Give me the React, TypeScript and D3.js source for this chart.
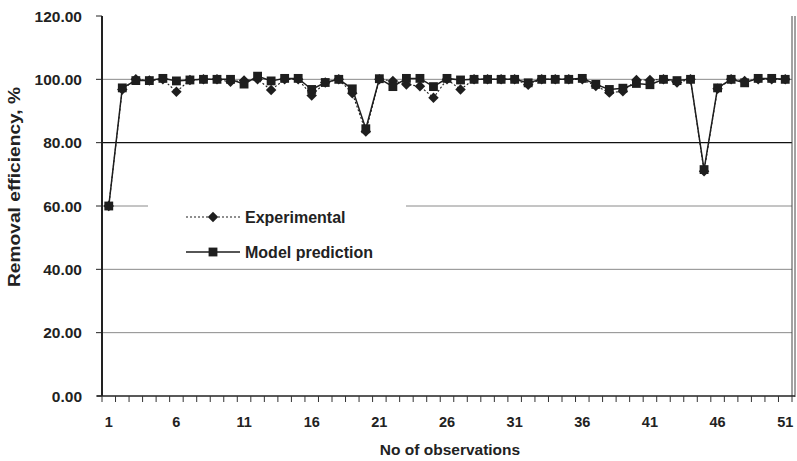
import React from "react";
import * as d3 from "d3";

const observations: number[] = d3.range(1, 52);
const experimental: number[] = [
  60, 96.8, 100, 99.6, 100, 96.1, 99.8, 100, 100, 99.2,
  99.6, 100, 96.6, 100, 100, 94.9, 99, 100, 95.6, 83.5,
  100, 99.5, 98.4, 97.8, 94.2, 100, 96.8, 100, 100, 100,
  100, 98.3, 100, 100, 100, 100, 97.9, 95.8, 96.2, 99.8,
  99.8, 100, 99, 100, 71, 97, 100, 99.5, 100, 100,
  100,
];
const model: number[] = [
  60, 97.3, 99.6, 99.6, 100.3, 99.5, 99.8, 100, 100, 100,
  98.5, 101, 99.5, 100.3, 100.3, 96.8, 99, 100, 97, 84.4,
  100.2, 97.7, 100.3, 100.3, 97.7, 100.3, 99.8, 100, 100, 100,
  100, 98.9, 100, 100, 100, 100.3, 98.4, 96.8, 97.2, 98.7,
  98.3, 100, 99.6, 100, 71.5, 97.3, 100, 98.9, 100.3, 100.3,
  100,
];
const yTicks: number[] = [0, 20, 40, 60, 80, 100, 120];
const xLabelTicks: number[] = [1, 6, 11, 16, 21, 26, 31, 36, 41, 46, 51];
const seriesNames: string[] = ["Experimental", "Model prediction"];
const xTitle = "No of observations";
const yTitle = "Removal efficiency, %";

const W = 797;
const H = 461;
const left = 102;
const right = 792;
const top = 16;
const bottom = 396;
const ink = "#1e1e1e";
const font = "'Liberation Sans', Arial, sans-serif";

export default function App() {
  const x = d3.scaleBand<number>().domain(observations).range([left, right]).padding(0);
  const y = d3.scaleLinear().domain([0, 120]).range([bottom, top]);
  const cx = (i: number) => (x(observations[i]) as number) + x.bandwidth() / 2;

  const line = d3
    .line<number>()
    .x((_, i) => cx(i))
    .y((d) => y(d));

  const diamond = d3.symbol().type(d3.symbolDiamond2).size(70)();
  const square = d3.symbol().type(d3.symbolSquare).size(78)();

  const boundaries = d3.range(0, observations.length + 1).map((k) => left + k * x.bandwidth());

  const legX1 = 186;
  const legX2 = 240;
  const legY = [217, 252];

  return (
    <svg
      width={W}
      height={H}
      style={{ position: "absolute", left: 0, top: 0, display: "block", background: "#fff" }}
      fontFamily={font}
    >
      <rect x={0} y={0} width={W} height={H} fill="#fff" />
      {yTicks
        .filter((t) => t > 0 && t < 120)
        .map((t) => (
          <line
            key={t}
            x1={left}
            x2={right}
            y1={y(t)}
            y2={y(t)}
            stroke={t === 80 ? "#111" : "#8a8a8a"}
            strokeWidth={t === 80 ? 1.4 : 1}
          />
        ))}
      <rect x={148} y={199} width={258} height={66} fill="#fff" />
      <line x1={right} x2={right} y1={top} y2={bottom} stroke="#444" strokeWidth={1} />
      <line x1={right + 3} x2={right + 3} y1={top} y2={bottom + 1} stroke="#444" strokeWidth={1} />
      <path d={line(experimental) || ""} fill="none" stroke={ink} strokeWidth={1.1} strokeDasharray="2,2" />
      <path d={line(model) || ""} fill="none" stroke={ink} strokeWidth={1.5} />
      {experimental.map((v, i) => (
        <path key={"e" + i} d={diamond || ""} transform={`translate(${cx(i)},${y(v)})`} fill={ink} />
      ))}
      {model.map((v, i) => (
        <path key={"m" + i} d={square || ""} transform={`translate(${cx(i)},${y(v)})`} fill={ink} />
      ))}
      <line x1={left} x2={left} y1={top} y2={bottom} stroke="#222" strokeWidth={2} />
      <line x1={left - 5} x2={right + 3} y1={bottom} y2={bottom} stroke="#222" strokeWidth={1.6} />
      {yTicks.map((t) => (
        <g key={"yt" + t}>
          <line x1={left - 6} x2={left} y1={y(t)} y2={y(t)} stroke="#222" strokeWidth={1} />
          <text
            x={82}
            y={y(t)}
            dy="0.36em"
            textAnchor="end"
            fontSize={15.5}
            fontWeight="bold"
            fill="#222"
          >
            {t.toFixed(2)}
          </text>
        </g>
      ))}
      {boundaries.map((b, k) => (
        <line key={"xt" + k} x1={b} x2={b} y1={bottom} y2={bottom + 6} stroke="#333" strokeWidth={1} />
      ))}
      {xLabelTicks.map((t) => (
        <text
          key={"xl" + t}
          x={cx(observations.indexOf(t))}
          y={427}
          textAnchor="middle"
          fontSize={14.5}
          fontWeight="bold"
          fill="#222"
        >
          {t}
        </text>
      ))}
      <text x={450} y={455} textAnchor="middle" fontSize={15.5} fontWeight="bold" fill="#222">
        {xTitle}
      </text>
      <text
        transform={`translate(20,187) rotate(-90)`}
        textAnchor="middle"
        fontSize={16}
        fontWeight="bold"
        fill="#222"
        textLength={200}
        lengthAdjust="spacingAndGlyphs"
      >
        {yTitle}
      </text>
      <line x1={legX1} x2={legX2} y1={legY[0]} y2={legY[0]} stroke={ink} strokeWidth={1.1} strokeDasharray="2,2" />
      <path d={diamond || ""} transform={`translate(${(legX1 + legX2) / 2},${legY[0]})`} fill={ink} />
      <text x={245} y={legY[0]} dy="0.36em" fontSize={16} fontWeight="bold" fill="#222">
        {seriesNames[0]}
      </text>
      <line x1={legX1} x2={legX2} y1={legY[1]} y2={legY[1]} stroke={ink} strokeWidth={1.5} />
      <path d={square || ""} transform={`translate(${(legX1 + legX2) / 2},${legY[1]})`} fill={ink} />
      <text x={245} y={legY[1]} dy="0.36em" fontSize={16} fontWeight="bold" fill="#222">
        {seriesNames[1]}
      </text>
    </svg>
  );
}
